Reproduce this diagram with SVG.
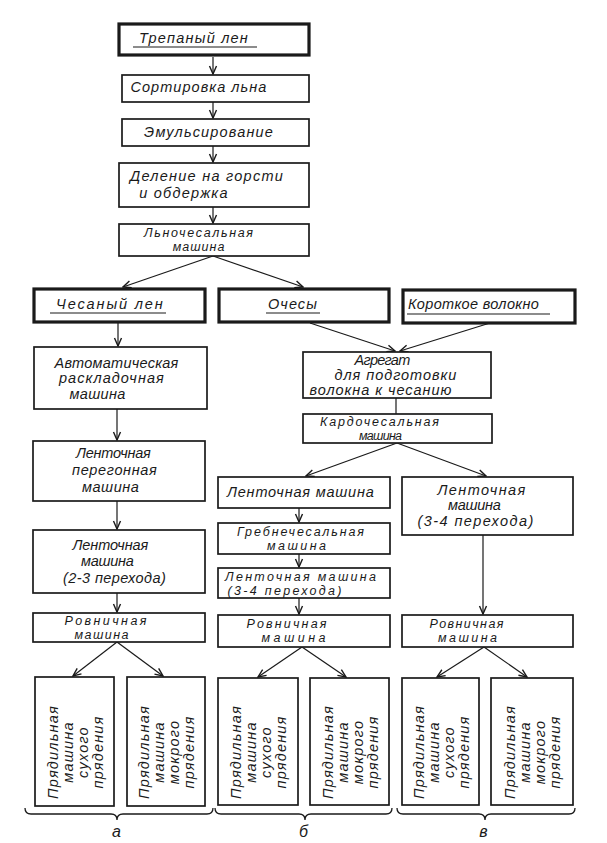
<svg xmlns="http://www.w3.org/2000/svg" width="607" height="843" viewBox="0 0 607 843">
<defs>
<style>
.b{fill:#fff;stroke:#1a1a1a;stroke-width:1.7}
.bt{fill:#fff;stroke:#1a1a1a;stroke-width:3.2}
.t{font-family:"Liberation Sans","DejaVu Sans",sans-serif;font-style:italic;font-size:14.5px;letter-spacing:1.2px;fill:#1a1a1a;text-anchor:middle}
.s{font-size:12.5px;letter-spacing:1px}
.u{stroke:#1a1a1a;stroke-width:1.2}
.c line{stroke:#1a1a1a;stroke-width:1.2;fill:none}
.br{stroke:#1a1a1a;stroke-width:1.3;fill:none}
</style>
<marker id="ah" viewBox="-10 -5 11 10" refX="0" refY="0" markerWidth="11" markerHeight="10" markerUnits="userSpaceOnUse" orient="auto">
<path d="M-8,-3.5 L0,0 L-8,3.5" fill="none" stroke="#1a1a1a" stroke-width="1.4"/>
</marker>
</defs>
<rect width="607" height="843" fill="#fff"/>

<g class="c" id="connectors">
<line x1="213" y1="57" x2="213" y2="74" marker-end="url(#ah)"/>
<line x1="213" y1="102" x2="213" y2="118" marker-end="url(#ah)"/>
<line x1="213" y1="146" x2="213" y2="162" marker-end="url(#ah)"/>
<line x1="213" y1="207" x2="213" y2="223" marker-end="url(#ah)"/>
<line x1="213" y1="256" x2="123" y2="287" marker-end="url(#ah)"/>
<line x1="213" y1="256" x2="303" y2="287" marker-end="url(#ah)"/>
<line x1="118" y1="323" x2="118" y2="346" marker-end="url(#ah)"/>
<line x1="117" y1="409" x2="117" y2="440" marker-end="url(#ah)"/>
<line x1="117" y1="501" x2="117" y2="529" marker-end="url(#ah)"/>
<line x1="117" y1="593" x2="117" y2="612" marker-end="url(#ah)"/>
<line x1="117" y1="642" x2="73" y2="676" marker-end="url(#ah)"/>
<line x1="117" y1="642" x2="163" y2="676" marker-end="url(#ah)"/>
<line x1="310" y1="323" x2="395" y2="351" marker-end="url(#ah)"/>
<line x1="490" y1="323" x2="400" y2="351" marker-end="url(#ah)"/>
<line x1="396" y1="398" x2="396" y2="414"/>
<line x1="397" y1="443" x2="306" y2="476" marker-end="url(#ah)"/>
<line x1="397" y1="443" x2="486" y2="476" marker-end="url(#ah)"/>
<line x1="299" y1="508" x2="299" y2="522" marker-end="url(#ah)"/>
<line x1="299" y1="554" x2="299" y2="567" marker-end="url(#ah)"/>
<line x1="299" y1="598" x2="299" y2="614" marker-end="url(#ah)"/>
<line x1="302" y1="647" x2="258" y2="677" marker-end="url(#ah)"/>
<line x1="302" y1="647" x2="346" y2="677" marker-end="url(#ah)"/>
<line x1="483" y1="535" x2="483" y2="614" marker-end="url(#ah)"/>
<line x1="484" y1="647" x2="437" y2="677" marker-end="url(#ah)"/>
<line x1="484" y1="647" x2="527" y2="677" marker-end="url(#ah)"/>
</g>

<g id="n-trepany">
<rect class="bt" x="119" y="24" width="190" height="31"/>
<text class="t" x="194" y="43" textLength="110">Трепаный лен</text>
<line class="u" x1="133" y1="47" x2="257" y2="47"/>
</g>
<g id="n-sort">
<rect class="b" x="122" y="75" width="187" height="27"/>
<text class="t" x="199" y="92" textLength="137">Сортировка льна</text>
</g>
<g id="n-emuls">
<rect class="b" x="122" y="119" width="187" height="27"/>
<text class="t" x="209" y="137" textLength="130">Эмульсирование</text>
</g>
<g id="n-delenie">
<rect class="b" x="119" y="163" width="190" height="44"/>
<text class="t" x="207" y="181" textLength="154">Деление на горсти</text>
<text class="t" x="184" y="198">и обдержка</text>
</g>
<g id="n-lnochesal">
<rect class="b" x="119" y="224" width="190" height="32"/>
<text class="t s" x="199" y="237" textLength="110">Льночесальная</text>
<text class="t s" x="199" y="251">машина</text>
</g>

<g id="n-chesany">
<rect class="bt" x="34" y="289" width="171" height="33"/>
<text class="t" x="110" y="309" textLength="108">Чесаный лен</text>
<line class="u" x1="50" y1="313" x2="166" y2="313"/>
</g>
<g id="n-ochesy">
<rect class="bt" x="219" y="289" width="170" height="33"/>
<text class="t" x="293" y="309" textLength="50">Очесы</text>
<line class="u" x1="266" y1="313" x2="320" y2="313"/>
</g>
<g id="n-korotkoe">
<rect class="bt" x="403" y="290" width="172" height="33"/>
<text class="t" x="474" y="309" textLength="132">Короткое волокно</text>
<line class="u" x1="407" y1="314" x2="550" y2="314"/>
</g>

<g id="n-avtomat">
<rect class="b" x="34" y="347" width="173" height="62"/>
<text class="t" x="117" y="368" textLength="125">Автоматическая</text>
<text class="t" x="112" y="383" textLength="106">раскладочная</text>
<text class="t" x="98" y="399" textLength="57">машина</text>
</g>
<g id="n-peregon">
<rect class="b" x="33" y="441" width="172" height="60"/>
<text class="t" x="114" y="458" textLength="76">Ленточная</text>
<text class="t" x="115" y="475" textLength="86">перегонная</text>
<text class="t" x="111" y="492" textLength="58">машина</text>
</g>
<g id="n-lent23">
<rect class="b" x="33" y="530" width="172" height="63"/>
<text class="t" x="111" y="550" textLength="77">Ленточная</text>
<text class="t" x="108" y="566" textLength="54">машина</text>
<text class="t" x="115" y="583" textLength="104">(2-3 перехода)</text>
</g>
<g id="n-rovn-a">
<rect class="b" x="33" y="613" width="172" height="29"/>
<text class="t s" x="106" y="625" textLength="83">Ровничная</text>
<text class="t s" x="102" y="639" textLength="55">машина</text>
</g>

<g id="n-agregat">
<rect class="b" x="303" y="352" width="188" height="46"/>
<text class="t" x="383" y="365" textLength="57">Агрегат</text>
<text class="t" x="396" y="380" textLength="123">для подготовки</text>
<text class="t" x="381" y="395" textLength="143">волокна к чесанию</text>
</g>
<g id="n-kardo">
<rect class="b" x="303" y="414" width="189" height="29"/>
<text class="t s" x="380" y="426" textLength="120">Кардочесальная</text>
<text class="t s" x="381" y="440" textLength="44">машина</text>
</g>

<g id="n-lent-b">
<rect class="b" x="218" y="477" width="172" height="31"/>
<text class="t" x="301" y="497" textLength="148">Ленточная машина</text>
</g>
<g id="n-grebne">
<rect class="b" x="218" y="523" width="172" height="31"/>
<text class="t s" x="301" y="536" textLength="128">Гребнечесальная</text>
<text class="t s" x="297" y="550" textLength="60">машина</text>
</g>
<g id="n-lent34-b">
<rect class="b" x="218" y="568" width="172" height="30"/>
<text class="t s" x="301" y="581" textLength="152">Ленточная машина</text>
<text class="t s" x="285" y="595" textLength="115">(3-4 перехода)</text>
</g>
<g id="n-rovn-b">
<rect class="b" x="218" y="615" width="172" height="32"/>
<text class="t s" x="287" y="628" textLength="81">Ровничная</text>
<text class="t s" x="294" y="642" textLength="65">машина</text>
</g>

<g id="n-lent34-v">
<rect class="b" x="402" y="477" width="171" height="58"/>
<text class="t" x="482" y="495" textLength="89">Ленточная</text>
<text class="t" x="475" y="510" textLength="54">машина</text>
<text class="t" x="476" y="526" textLength="117">(3-4 перехода)</text>
</g>
<g id="n-rovn-v">
<rect class="b" x="402" y="615" width="171" height="32"/>
<text class="t s" x="467" y="628" textLength="75">Ровничная</text>
<text class="t s" x="468" y="642" textLength="60">машина</text>
</g>

<g id="n-suh-a">
<rect class="b" x="35" y="677" width="79" height="129"/>
<text class="t" transform="translate(74.5,752) rotate(-90)"><tspan x="0" y="-17">Прядильная</tspan><tspan x="0" y="-2">машина</tspan><tspan x="0" y="13">сухого</tspan><tspan x="0" y="28">прядения</tspan></text>
</g>
<g id="n-mok-a">
<rect class="b" x="127" y="677" width="78" height="129"/>
<text class="t" transform="translate(166,752) rotate(-90)"><tspan x="0" y="-17">Прядильная</tspan><tspan x="0" y="-2">машина</tspan><tspan x="0" y="13">мокрого</tspan><tspan x="0" y="28">прядения</tspan></text>
</g>
<g id="n-suh-b">
<rect class="b" x="218" y="678" width="80" height="127"/>
<text class="t" transform="translate(258,752) rotate(-90)"><tspan x="0" y="-17">Прядильная</tspan><tspan x="0" y="-2">машина</tspan><tspan x="0" y="13">сухого</tspan><tspan x="0" y="28">прядения</tspan></text>
</g>
<g id="n-mok-b">
<rect class="b" x="310" y="678" width="79" height="127"/>
<text class="t" transform="translate(349.5,752) rotate(-90)"><tspan x="0" y="-17">Прядильная</tspan><tspan x="0" y="-2">машина</tspan><tspan x="0" y="13">мокрого</tspan><tspan x="0" y="28">прядения</tspan></text>
</g>
<g id="n-suh-v">
<rect class="b" x="402" y="678" width="77" height="127"/>
<text class="t" transform="translate(440.5,752) rotate(-90)"><tspan x="0" y="-17">Прядильная</tspan><tspan x="0" y="-2">машина</tspan><tspan x="0" y="13">сухого</tspan><tspan x="0" y="28">прядения</tspan></text>
</g>
<g id="n-mok-v">
<rect class="b" x="491" y="678" width="82" height="127"/>
<text class="t" transform="translate(532,752) rotate(-90)"><tspan x="0" y="-17">Прядильная</tspan><tspan x="0" y="-2">машина</tspan><tspan x="0" y="13">мокрого</tspan><tspan x="0" y="28">прядения</tspan></text>
</g>

<g id="braces">
<path class="br" d="M25,808 Q25,814 31,814 L111,814 Q117,814 117,820 Q117,814 123,814 L207,814 Q213,814 213,808"/>
<path class="br" d="M215,808 Q215,814 221,814 L299,814 Q305,814 305,820 Q305,814 311,814 L386,814 Q392,814 392,808"/>
<path class="br" d="M397,808 Q397,814 403,814 L479,814 Q485,814 485,820 Q485,814 491,814 L569,814 Q575,814 575,808"/>
<text class="t" style="font-size:16px" x="117" y="837">а</text>
<text class="t" style="font-size:16px" x="304" y="837">б</text>
<text class="t" style="font-size:16px" x="484" y="837">в</text>
</g>
</svg>
